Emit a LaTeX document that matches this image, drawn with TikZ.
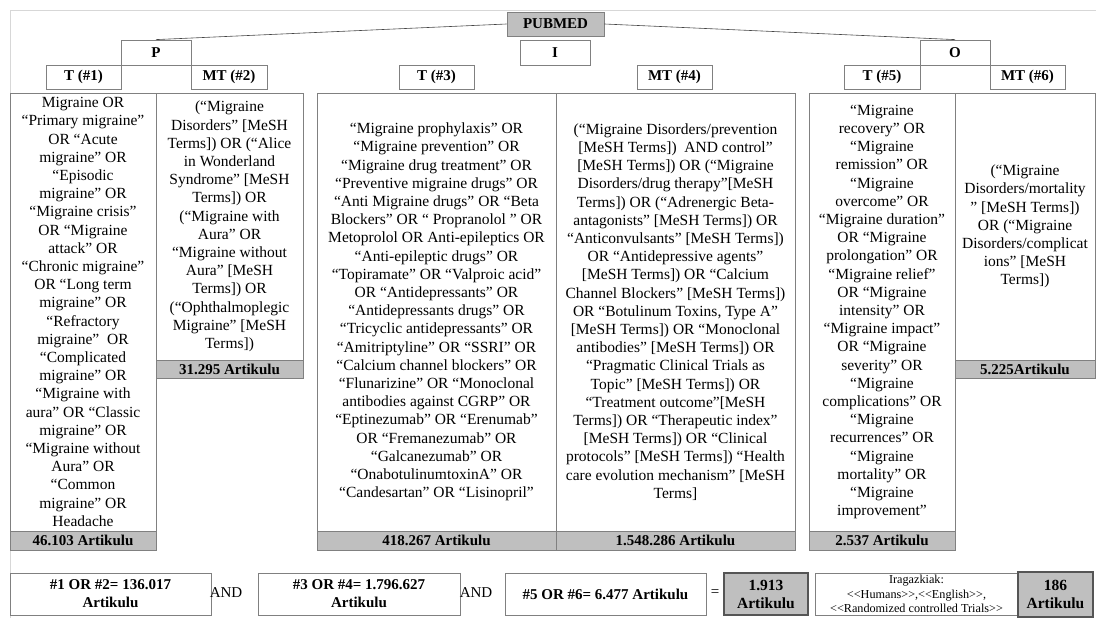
\documentclass[tikz,border=0pt]{standalone}
\usepackage{fontspec}
\setmainfont{Liberation Serif}
\definecolor{boxgray}{RGB}{128,128,128}
\definecolor{bargray}{RGB}{191,191,191}
\definecolor{resline}{RGB}{85,85,85}
\definecolor{framegray}{RGB}{215,215,215}
\definecolor{linkgray}{RGB}{70,70,70}
\newcommand\ltlt{<\kern0pt<}
\newcommand\gtgt{>\kern0pt>}
\newcommand\placebox[7][]{%
  \pgfmathsetmacro\bxcx{(#3+#5)/2}%
  \pgfmathsetmacro\bxcy{(#4+#6)/2}%
  \pgfmathsetmacro\bxw{#5-#3}%
  \pgfmathsetmacro\bxh{#6-#4}%
  \node[cellbox,#1,minimum width=\bxw pt,minimum height=\bxh pt] (#2) at (\bxcx,\bxcy) {#7};%
}
\tikzset{
  cellbox/.style={draw=boxgray, line width=0.8pt, inner sep=0pt, align=center,
    font=\fontsize{15.5}{18.2}\selectfont},
  hdr/.style={font=\fontsize{15}{18}\selectfont\bfseries},
  bar/.style={fill=bargray, font=\fontsize{15}{18}\selectfont\bfseries},
  res/.style={draw=resline, line width=1.8pt, fill=bargray, font=\fontsize{15.5}{18}\selectfont\bfseries},
  bold/.style={font=\fontsize{15}{18}\selectfont\bfseries},
  filt/.style={font=\fontsize{12.2}{14.4}\selectfont},
  lbl/.style={inner sep=0pt, font=\fontsize{15}{18}\selectfont},
  link/.style={draw=linkgray, line width=0.6pt}
}
\begin{document}
\begin{tikzpicture}[x=1pt,y=-1pt]
\useasboundingbox (0,0) rectangle (1096,618);
\draw[framegray, line width=0.8pt] (10,618) -- (10,10) -- (1096,10);

% top level
\placebox[hdr,fill=bargray]{PUB}{507}{12}{604}{36}{PUBMED}
\placebox[hdr]{P}{121}{40}{191}{65}{P}
\placebox[hdr]{I}{520}{40}{590}{65}{I}
\placebox[hdr]{O}{920}{40}{990}{65}{O}
\placebox[hdr]{T1}{46}{65}{121}{89}{T (\#1)}
\placebox[hdr]{MT2}{191}{65}{267}{89}{MT (\#2)}
\placebox[hdr]{T3}{399}{65}{474}{89}{T (\#3)}
\placebox[hdr]{MT4}{637}{65}{712}{89}{MT (\#4)}
\placebox[hdr]{T5}{844}{65}{920}{89}{T (\#5)}
\placebox[hdr]{MT6}{990}{65}{1065}{89}{MT (\#6)}
\draw[link] (PUB.west) -- (P.north);
\draw[link] (PUB.east) -- (O.north);

% T1 column
\placebox{C1}{10}{93}{156}{531}{Migraine OR\\
“Primary migraine”\\
OR “Acute\\
migraine” OR\\
“Episodic\\
migraine” OR\\
“Migraine crisis”\\
OR “Migraine\\
attack” OR\\
“Chronic migraine”\\
OR “Long term\\
migraine” OR\\
“Refractory\\
migraine”\ \ OR\\
“Complicated\\
migraine” OR\\
“Migraine with\\
aura” OR “Classic\\
migraine” OR\\
“Migraine without\\
Aura” OR\\
“Common\\
migraine” OR\\
Headache}
\placebox[bar]{B1}{10}{531}{156}{550}{46.103 Artikulu}

% MT2 column
\placebox{C2}{156}{93}{303}{360}{(“Migraine\\
Disorders” [MeSH\\
Terms]) OR (“Alice\\
in Wonderland\\
Syndrome” [MeSH\\
Terms]) OR\\
(“Migraine with\\
Aura” OR\\
“Migraine without\\
Aura” [MeSH\\
Terms]) OR\\
(“Ophthalmoplegic\\
Migraine” [MeSH\\
Terms])}
\placebox[bar]{B2}{156}{360}{303}{378}{31.295 Artikulu}

% T3 column
\placebox{C3}{317}{93}{556}{531}{“Migraine prophylaxis” OR\\
“Migraine prevention” OR\\
“Migraine drug treatment” OR\\
“Preventive migraine drugs” OR\\
“Anti Migraine drugs” OR “Beta\\
Blockers” OR “ Propranolol ” OR\\
Metoprolol OR Anti-epileptics OR\\
“Anti-epileptic drugs” OR\\
“Topiramate” OR “Valproic acid”\\
OR “Antidepressants” OR\\
“Antidepressants drugs” OR\\
“Tricyclic antidepressants” OR\\
“Amitriptyline” OR “SSRI” OR\\
“Calcium channel blockers” OR\\
“Flunarizine” OR “Monoclonal\\
antibodies against CGRP” OR\\
“Eptinezumab” OR “Erenumab”\\
OR “Fremanezumab” OR\\
“Galcanezumab” OR\\
“OnabotulinumtoxinA” OR\\
“Candesartan” OR “Lisinopril”}
\placebox[bar]{B3}{317}{531}{556}{550}{418.267 Artikulu}

% MT4 column
\placebox{C4}{556}{93}{795}{531}{(“Migraine Disorders/prevention\\
{}[MeSH Terms])\ \ AND control”\\
{}[MeSH Terms]) OR (“Migraine\\
Disorders/drug therapy”[MeSH\\
Terms]) OR (“Adrenergic Beta-\\
antagonists” [MeSH Terms]) OR\\
“Anticonvulsants” [MeSH Terms])\\
OR “Antidepressive agents”\\
{}[MeSH Terms]) OR “Calcium\\
Channel Blockers” [MeSH Terms])\\
OR “Botulinum Toxins, Type A”\\
{}[MeSH Terms]) OR “Monoclonal\\
antibodies” [MeSH Terms]) OR\\
“Pragmatic Clinical Trials as\\
Topic” [MeSH Terms]) OR\\
“Treatment outcome”[MeSH\\
Terms]) OR “Therapeutic index”\\
{}[MeSH Terms]) OR “Clinical\\
protocols” [MeSH Terms]) “Health\\
care evolution mechanism” [MeSH\\
Terms]}
\placebox[bar]{B4}{556}{531}{795}{550}{1.548.286 Artikulu}

% T5 column
\placebox{C5}{809}{93}{955}{531}{“Migraine\\
recovery” OR\\
“Migraine\\
remission” OR\\
“Migraine\\
overcome” OR\\
“Migraine duration”\\
OR “Migraine\\
prolongation” OR\\
“Migraine relief”\\
OR “Migraine\\
intensity” OR\\
“Migraine impact”\\
OR “Migraine\\
severity” OR\\
“Migraine\\
complications” OR\\
“Migraine\\
recurrences” OR\\
“Migraine\\
mortality” OR\\
“Migraine\\
improvement”}
\placebox[bar]{B5}{809}{531}{955}{550}{2.537 Artikulu}

% MT6 column
\placebox{C6}{955}{93}{1095}{360}{(“Migraine\\
Disorders/mortality\\
” [MeSH Terms])\\
OR (“Migraine\\
Disorders/complicat\\
ions” [MeSH\\
Terms])}
\placebox[bar]{B6}{955}{360}{1095}{378}{5.225Artikulu}

% bottom row
\placebox[bold]{R1}{10}{573}{211}{615}{\#1 OR \#2= 136.017\\Artikulu}
\node[lbl] (and1) at (226,593) {AND};
\placebox[bold]{R2}{258}{573}{460}{615}{\#3 OR \#4= 1.796.627\\Artikulu}
\node[lbl] (and2) at (476,593) {AND};
\placebox[bold]{R3}{505}{573}{706}{615}{\#5 OR \#6= 6.477 Artikulu}
\node[lbl] (eq) at (715,593) {=};
\placebox[res]{R4}{724}{573}{808}{615}{1.913\\Artikulu}
\placebox[filt]{R5}{815}{573}{1018}{615}{Iragazkiak:\\
\ltlt Humans\gtgt,\ltlt English\gtgt,\\
\ltlt Randomized controlled Trials\gtgt}
\placebox[res]{R6}{1018}{572}{1093}{617}{186\\Artikulu}
\end{tikzpicture}
\end{document}
